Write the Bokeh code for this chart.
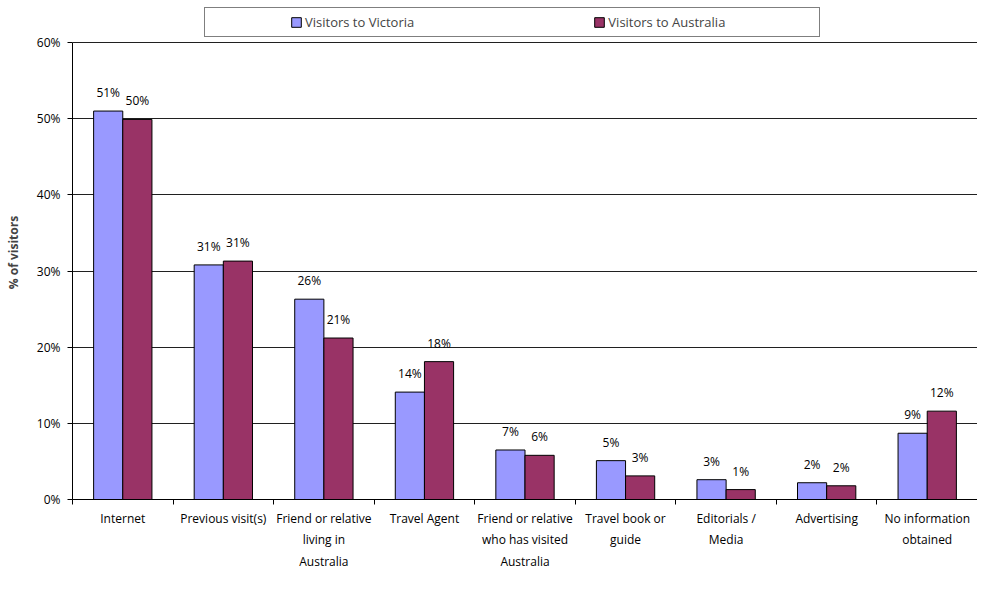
from bokeh.plotting import figure
from bokeh.models import FixedTicker, Legend, LegendItem, ColumnDataSource, Range1d
from bokeh.embed import file_html
from bokeh.resources import INLINE
from bokeh.core.properties import value

categories = [
    "Internet",
    "Previous visit(s)",
    "Friend or relative\nliving in\nAustralia",
    "Travel Agent",
    "Friend or relative\nwho has visited\nAustralia",
    "Travel book or\nguide",
    "Editorials /\nMedia",
    "Advertising",
    "No information\nobtained",
]
victoria = [51.0, 30.8, 26.3, 14.1, 6.5, 5.1, 2.6, 2.2, 8.7]
australia = [49.9, 31.3, 21.2, 18.1, 5.8, 3.1, 1.3, 1.8, 11.6]
victoria_labels = ["51%", "31%", "26%", "14%", "7%", "5%", "3%", "2%", "9%"]
australia_labels = ["50%", "31%", "21%", "18%", "6%", "3%", "1%", "2%", "12%"]
y_ticks = [0, 10, 20, 30, 40, 50, 60]
y_tick_labels = ["0%", "10%", "20%", "30%", "40%", "50%", "60%"]
series_names = ["Visitors to Victoria", "Visitors to Australia"]

FONT = "Open Sans"
VIC_COLOR = "#9999FF"
AUS_COLOR = "#993366"

n = len(categories)
centers = [i + 0.5 for i in range(n)]
bounds = [float(i) for i in range(n + 1)]
off = 0.145
bw = 0.29

# layout (pixels)
W, H = 977, 573
B_TOP, B_BOTTOM, B_LEFT = 5, 74, 72
FRAME_H = H - B_TOP - B_BOTTOM
TOP_PAD = 37  # room inside the frame above the 60% line, for the legend
LEGEND_H = 26
y_end = y_ticks[-1] * FRAME_H / (FRAME_H - TOP_PAD)

src = ColumnDataSource(dict(
    xv=[c - off for c in centers],
    xa=[c + off for c in centers],
    vic=victoria, aus=australia,
    vl=victoria_labels, al=australia_labels,
))

p = figure(width=W, height=H, output_backend="svg", toolbar_location=None,
           x_range=Range1d(0, n), y_range=Range1d(0, y_end),
           min_border_left=B_LEFT, min_border_right=0, min_border_top=B_TOP,
           min_border_bottom=B_BOTTOM)
p.background_fill_color = "white"
p.border_fill_color = "white"
p.outline_line_color = None

rv = p.vbar(x="xv", top="vic", width=bw, bottom=0, source=src,
            fill_color=VIC_COLOR, line_color="black", line_width=1)
ra = p.vbar(x="xa", top="aus", width=bw, bottom=0, source=src,
            fill_color=AUS_COLOR, line_color="black", line_width=1)

for xf, yf, tf in (("xv", "vic", "vl"), ("xa", "aus", "al")):
    p.text(x=xf, y=yf, text=tf, source=src, text_align="center",
           text_baseline="bottom", y_offset=-10, text_font=value(FONT),
           text_font_size="12px", text_color="black")

# grid
p.xgrid.visible = False
p.ygrid.ticker = FixedTicker(ticks=y_ticks)
p.ygrid.grid_line_color = "#202020"
p.ygrid.grid_line_width = 1

# y axis
ya = p.yaxis[0]
ya.ticker = FixedTicker(ticks=y_ticks)
ya.bounds = (y_ticks[0], y_ticks[-1])
ya.major_label_overrides = {t: l for t, l in zip(y_ticks, y_tick_labels)}
ya.axis_label = "% of visitors"
ya.axis_label_text_font = FONT
ya.axis_label_text_font_style = "bold"
ya.axis_label_text_font_size = "12px"
ya.axis_label_standoff = 12
ya.major_label_text_font = FONT
ya.major_label_text_font_size = "12px"
ya.major_label_text_color = "black"
ya.major_label_standoff = 7
ya.major_tick_in = 0
ya.major_tick_out = 5
ya.minor_tick_out = 0
ya.minor_tick_in = 0
ya.axis_line_color = "black"
ya.major_tick_line_color = "black"

# x axis
xa = p.xaxis[0]
xa.ticker = FixedTicker(ticks=centers, minor_ticks=bounds)
xa.major_label_overrides = {c: l for c, l in zip(centers, categories)}
xa.major_label_text_font = FONT
xa.major_label_text_font_size = "12px"
xa.major_label_text_color = "black"
xa.major_label_text_line_height = 1.28
xa.major_label_standoff = 5
xa.major_tick_in = 0
xa.major_tick_out = 0
xa.minor_tick_in = 0
xa.minor_tick_out = 5
xa.minor_tick_line_color = "black"
xa.axis_line_color = "black"

# legend (boxed, above the 60% line)
dummy = p.vbar(x=[], top=[], width=0.1, fill_alpha=0, line_alpha=0)
legend = Legend(items=[
    LegendItem(label="\u2003" * 5, renderers=[dummy]),
    LegendItem(label=series_names[0] + "\u2003" * 13 + "   ", renderers=[rv]),
    LegendItem(label=series_names[1] + "\u2003" * 6 + "   ", renderers=[ra]),
], orientation="horizontal", padding=5, spacing=0, glyph_width=12,
    glyph_height=12, label_height=16, label_standoff=3,
    label_text_font=FONT, label_text_font_size="13px",
    border_line_color="black", border_line_width=1, margin=0,
    location=(132, FRAME_H - 6 - LEGEND_H))
p.add_layout(legend, "center")

open("out.html", "w").write(file_html(p, INLINE))
